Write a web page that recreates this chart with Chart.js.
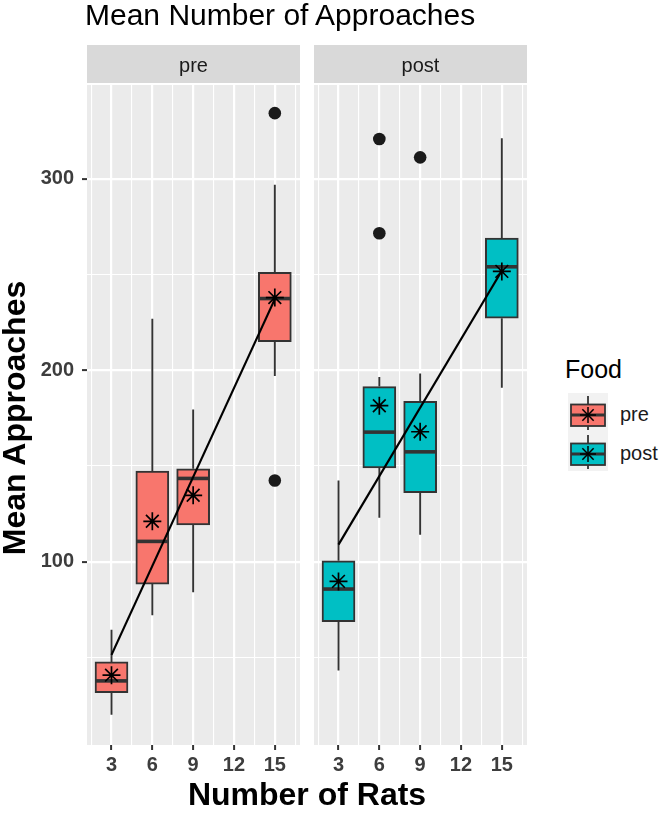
<!DOCTYPE html>
<html>
<head>
<meta charset="utf-8">
<script src="https://cdn.jsdelivr.net/npm/chart.js@4.4.1/dist/chart.umd.min.js"></script>
<style>
  body { margin: 0; background: #fff; }
  #wrap { position: relative; width: 667px; height: 817px; overflow: hidden;
          font-family: "Liberation Sans", Arial, sans-serif; color: #000; }
  canvas { position: absolute; top: 0; }
  .txt { position: absolute; white-space: nowrap; }
  #title { left: 85px; top: 0; font-size: 30px; line-height: 30px; }
  #ytitle { left: -136px; top: 402px; width: 300px; height: 32px; text-align: center;
            font-size: 32px; line-height: 32px; font-weight: bold; transform: rotate(-90deg); }
  #xtitle { left: 107px; top: 778px; width: 400px; text-align: center;
            font-size: 32px; line-height: 32px; font-weight: bold; }
  #legtitle { left: 565px; top: 357px; font-size: 25px; line-height: 25px; }
  .leglab { left: 620px; font-size: 20px; line-height: 20px; color: #1a1a1a; }
  .key { position: absolute; left: 568px; }
</style>
</head>
<body>
<div id="wrap">
  <canvas id="panelPre" width="300" height="817" style="left:0;width:300px;height:817px"></canvas>
  <canvas id="panelPost" width="213" height="817" style="left:314px;width:213px;height:817px"></canvas>
  <div class="txt" id="title">Mean Number of Approaches</div>
  <div class="txt" id="ytitle">Mean Approaches</div>
  <div class="txt" id="xtitle">Number of Rats</div>
  <div class="txt" id="legtitle">Food</div>
  <svg class="key" id="keyPre" style="top:393px" width="40" height="39"></svg>
  <svg class="key" id="keyPost" style="top:432px" width="40" height="39"></svg>
  <div class="txt leglab" style="top:404px">pre</div>
  <div class="txt leglab" style="top:443px">post</div>
</div>
<script>
// rat group sizes that have a box
const ratCounts = [3, 6, 9, 15];
const xTickLabels = [3, 6, 9, 12, 15];
const yTickLabels = [100, 200, 300];
const panels = ['pre', 'post'];
const foodColors = ['#F8766D', '#00BFC4'];

// pre
const preLow = [20, 72, 84, 197];
const preQ1 = [31.6, 88.3, 119.2, 215];
const preMedian = [37.7, 110.6, 143.5, 237.5];
const preQ3 = [47.6, 147.3, 148.5, 251.2];
const preHigh = [64.4, 227, 179.5, 297];
const preMean = [40.7, 121.1, 134.7, 238];
const preOutlierX = [15, 15];
const preOutlierY = [334.4, 142.4];

// post
const postLow = [43.1, 122.9, 114.1, 190.9];
const postQ1 = [68.7, 149, 136, 227.2];
const postMedian = [85.7, 167.7, 157.4, 254.1];
const postQ3 = [100.5, 191.5, 183.8, 269.1];
const postHigh = [142.4, 196.5, 198.4, 321.3];
const postMean = [89.7, 181.5, 167.9, 251.7];
const postOutlierX = [6, 6, 9];
const postOutlierY = [320.9, 271.6, 311.3];

// fitted line, at x = 3 and x = 15
const trendX = [3, 15];
const preTrend = [51.3, 237.2];
const postTrend = [108.9, 252];

const xRange = [1.2, 16.85];
const yRange = [4.2, 349.1];

const FONT = '"Liberation Sans", Arial, sans-serif';

// major + minor grid positions (minor halfway, one step past each end)
function gridValues(majors, range) {
  const step = majors[1] - majors[0];
  const vals = [];
  for (let v = majors[0] - step / 2; v <= majors[majors.length - 1] + step / 2 + 1e-9; v += step / 2) {
    if (v >= range[0] && v <= range[1]) vals.push(Math.round(v * 100) / 100);
  }
  return vals;
}
const xGrid = gridValues(xTickLabels, xRange);
const yGrid = gridValues(yTickLabels, yRange);

const boxExtras = {
  id: 'boxExtras',
  beforeDraw(chart) {
    const a = chart.chartArea, ctx = chart.ctx;
    ctx.save();
    ctx.fillStyle = '#EBEBEB';
    ctx.fillRect(a.left, a.top, a.right - a.left, a.bottom - a.top);
    ctx.fillStyle = '#D9D9D9';
    ctx.fillRect(a.left, a.top - 40, a.right - a.left, 38);
    ctx.fillStyle = '#1A1A1A';
    ctx.font = '20px ' + FONT;
    ctx.textAlign = 'center';
    ctx.fillText(chart.config.data.stripLabel, (a.left + a.right) / 2, a.top - 13);
    ctx.restore();
  },
  afterDatasetDraw(chart, args) {
    if (args.index !== 0) return;
    const st = chart.data.datasets[0].stats;
    const y = chart.scales.y, ctx = chart.ctx;
    ctx.save();
    ctx.strokeStyle = '#333333';
    args.meta.data.forEach((bar, i) => {
      const x = bar.x, half = bar.width / 2;
      ctx.lineWidth = 1.9;
      ctx.beginPath();
      ctx.moveTo(x, y.getPixelForValue(st.q3[i]));
      ctx.lineTo(x, y.getPixelForValue(st.high[i]));
      ctx.moveTo(x, y.getPixelForValue(st.q1[i]));
      ctx.lineTo(x, y.getPixelForValue(st.low[i]));
      ctx.stroke();
      const m = y.getPixelForValue(st.median[i]);
      ctx.lineWidth = 3.6;
      ctx.beginPath();
      ctx.moveTo(x - half + 1, m);
      ctx.lineTo(x + half - 1, m);
      ctx.stroke();
    });
    ctx.restore();
  }
};

function makePanel(id, label, color, low, q1, median, q3, high, mean, outX, outY, trend, showY) {
  const isMajorX = v => xTickLabels.includes(v);
  const isMajorY = v => yTickLabels.includes(v);
  return new Chart(document.getElementById(id), {
    type: 'bar',
    data: {
      stripLabel: label,
      datasets: [
        {
          type: 'bar',
          data: ratCounts.map((x, i) => ({ x: x, y: [q1[i], q3[i]] })),
          backgroundColor: color,
          borderColor: '#333333',
          borderWidth: 2,
          borderSkipped: false,
          barThickness: 33,
          order: 3,
          stats: { low: low, q1: q1, median: median, q3: q3, high: high }
        },
        {
          type: 'scatter',
          data: outX.map((x, i) => ({ x: x, y: outY[i] })),
          pointRadius: 6.3,
          backgroundColor: '#1A1A1A',
          borderWidth: 0,
          order: 2
        },
        {
          type: 'line',
          data: trendX.map((x, i) => ({ x: x, y: trend[i] })),
          borderColor: '#000000',
          borderWidth: 2.2,
          pointRadius: 0,
          fill: false,
          order: 1
        },
        {
          type: 'scatter',
          data: ratCounts.map((x, i) => ({ x: x, y: mean[i] })),
          pointStyle: 'star',
          pointRadius: 9,
          borderColor: '#000000',
          borderWidth: 1.7,
          backgroundColor: 'rgba(0,0,0,0)',
          order: 0
        }
      ]
    },
    options: {
      responsive: false,
      animation: false,
      events: [],
      layout: { autoPadding: false, padding: { top: 85, left: 0, right: 0, bottom: 0 } },
      plugins: { legend: { display: false }, tooltip: { enabled: false } },
      scales: {
        x: {
          type: 'linear',
          min: xRange[0],
          max: xRange[1],
          offset: false,
          afterBuildTicks: s => { s.ticks = xGrid.map(v => ({ value: v })); },
          afterFit: s => { s.height = 72; },
          border: { display: false },
          grid: {
            offset: false,
            color: '#FFFFFF',
            lineWidth: c => isMajorX(c.tick.value) ? 2.2 : 1.1,
            tickColor: c => isMajorX(c.tick.value) ? '#333333' : 'rgba(0,0,0,0)',
            tickLength: 5,
            tickWidth: 2
          },
          ticks: {
            autoSkip: false,
            maxRotation: 0,
            padding: 3,
            color: '#3D3D3D',
            font: { family: FONT, size: 20, weight: 'bold' },
            callback: v => isMajorX(v) ? String(v) : ''
          }
        },
        y: {
          type: 'linear',
          min: yRange[0],
          max: yRange[1],
          beginAtZero: false,
          afterBuildTicks: s => { s.ticks = yGrid.map(v => ({ value: v })); },
          afterFit: s => { s.width = showY ? 87 : 0; },
          border: { display: false },
          grid: {
            color: '#FFFFFF',
            lineWidth: c => isMajorY(c.tick.value) ? 2.2 : 1.1,
            tickColor: c => isMajorY(c.tick.value) ? '#333333' : 'rgba(0,0,0,0)',
            drawTicks: showY,
            tickLength: 5,
            tickWidth: 2
          },
          ticks: {
            display: showY,
            padding: 8,
            color: '#3D3D3D',
            font: { family: FONT, size: 20, weight: 'bold' },
            callback: v => isMajorY(v) ? String(v) : ''
          }
        }
      }
    },
    plugins: [boxExtras]
  });
}

makePanel('panelPre', panels[0], foodColors[0], preLow, preQ1, preMedian, preQ3, preHigh,
  preMean, preOutlierX, preOutlierY, preTrend, true);
makePanel('panelPost', panels[1], foodColors[1], postLow, postQ1, postMedian, postQ3, postHigh,
  postMean, postOutlierX, postOutlierY, postTrend, false);

// legend keys: boxplot glyph with the mean star
function drawKey(svgId, color) {
  const c = 20, m = 22, r = 8, d = r * Math.SQRT1_2;
  document.getElementById(svgId).innerHTML =
    '<rect width="40" height="39" fill="#F2F2F2"/>' +
    '<line x1="20" y1="3" x2="20" y2="37" stroke="#333" stroke-width="1.8"/>' +
    '<rect x="3" y="11.5" width="34" height="21.5" fill="' + color + '" stroke="#333" stroke-width="1.8"/>' +
    '<line x1="3" y1="' + m + '" x2="37" y2="' + m + '" stroke="#333" stroke-width="3.2"/>' +
    '<g stroke="#000" stroke-width="1.5">' +
    '<line x1="' + (c - r) + '" y1="' + m + '" x2="' + (c + r) + '" y2="' + m + '"/>' +
    '<line x1="' + c + '" y1="' + (m - r) + '" x2="' + c + '" y2="' + (m + r) + '"/>' +
    '<line x1="' + (c - d) + '" y1="' + (m - d) + '" x2="' + (c + d) + '" y2="' + (m + d) + '"/>' +
    '<line x1="' + (c - d) + '" y1="' + (m + d) + '" x2="' + (c + d) + '" y2="' + (m - d) + '"/>' +
    '</g>';
}
drawKey('keyPre', foodColors[0]);
drawKey('keyPost', foodColors[1]);
</script>
</body>
</html>
